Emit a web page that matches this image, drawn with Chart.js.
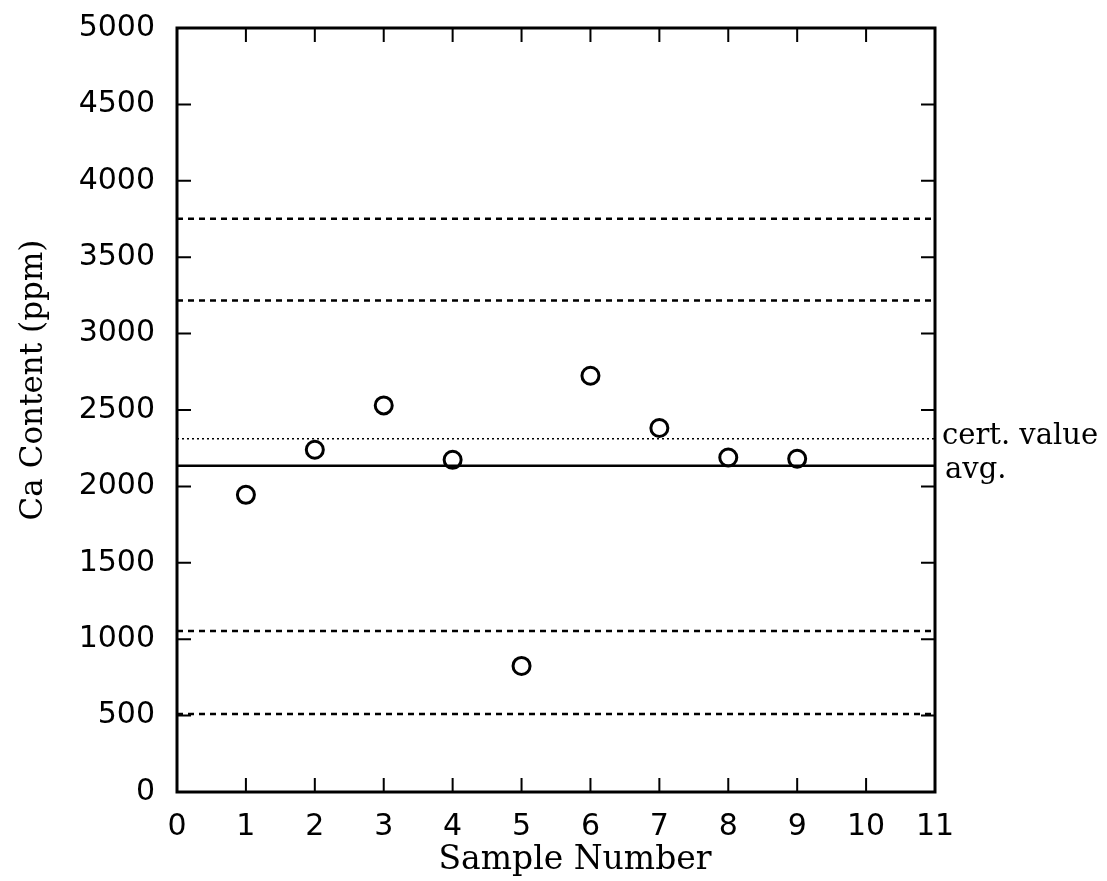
<!DOCTYPE html>
<html>
<head>
<meta charset="utf-8">
<script src="https://cdn.jsdelivr.net/npm/chart.js@4"></script>
<style>
    html, body { margin: 0; padding: 0; background: #ffffff; }
    #wrap { width: 1107px; height: 881px; }
</style>
</head>
<body>
<div id="wrap"><canvas id="myChart" width="1107" height="881"></canvas></div>
<script>
// sample results
const sampleNumbers = [1, 2, 3, 4, 5, 6, 7, 8, 9];
const caContent = [1945, 2240, 2530, 2174, 825, 2724, 2382, 2189, 2181];

// reference lines
const certValue = 2312;
const average = 2135;
const dashedLimits = [3752, 3217, 1054, 511];
const lineLabels = ['cert. value', 'avg.'];

const xTicks = [0, 1, 2, 3, 4, 5, 6, 7, 8, 9, 10, 11];
const yTicks = [0, 500, 1000, 1500, 2000, 2500, 3000, 3500, 4000, 4500, 5000];
const xTitle = 'Sample Number';
const yTitle = 'Ca Content (ppm)';

const tickFont = "'DejaVu Sans', sans-serif";
const serifFont = "'DejaVu Serif', serif";

function hLine(v, dash, width) {
    return {
        type: 'line',
        data: [{x: xTicks[0], y: v}, {x: xTicks[xTicks.length - 1], y: v}],
        borderColor: '#000',
        borderWidth: width,
        borderDash: dash,
        pointRadius: 0,
        fill: false
    };
}

// frame + inward ticks on all four sides, axis titles, labels right of the plot
const framePlugin = {
    id: 'frame',
    afterDraw(chart) {
        const ctx = chart.ctx;
        const a = chart.chartArea;
        const xs = chart.scales.x;
        const ys = chart.scales.y;
        ctx.save();
        ctx.strokeStyle = '#000';
        ctx.lineWidth = 2;
        const tl = 14;
        xTicks.slice(1, -1).forEach(t => {
            const px = xs.getPixelForValue(t);
            ctx.beginPath();
            ctx.moveTo(px, a.bottom); ctx.lineTo(px, a.bottom - tl);
            ctx.moveTo(px, a.top); ctx.lineTo(px, a.top + tl);
            ctx.stroke();
        });
        yTicks.slice(1, -1).forEach(t => {
            const py = ys.getPixelForValue(t);
            ctx.beginPath();
            ctx.moveTo(a.left, py); ctx.lineTo(a.left + tl, py);
            ctx.moveTo(a.right, py); ctx.lineTo(a.right - tl, py);
            ctx.stroke();
        });
        ctx.lineWidth = 3;
        ctx.strokeRect(a.left, a.top, a.right - a.left, a.bottom - a.top);

        ctx.fillStyle = '#000';
        ctx.textBaseline = 'middle';
        ctx.textAlign = 'left';
        ctx.font = "29px " + serifFont;
        ctx.fillText(lineLabels[0], a.right + 7, ys.getPixelForValue(certValue) - 2);
        ctx.fillText(lineLabels[1], a.right + 10, ys.getPixelForValue(average) + 5);

        ctx.textAlign = 'center';
        ctx.font = "33px " + serifFont;
        ctx.fillText(xTitle, 575, 860);

        ctx.font = "31px " + serifFont;
        ctx.translate(34, 380);
        ctx.rotate(-Math.PI / 2);
        ctx.fillText(yTitle, 0, 0);
        ctx.restore();
    }
};

const ctx = document.getElementById('myChart');
const myChart = new Chart(ctx, {
    type: 'scatter',
    data: {
        datasets: [
            {
                data: sampleNumbers.map((s, i) => ({x: s, y: caContent[i]})),
                pointStyle: 'circle',
                pointRadius: 8.5,
                borderColor: '#000',
                borderWidth: 3,
                backgroundColor: 'rgba(0,0,0,0)'
            },
            hLine(certValue, [2, 3], 1.5),
            hLine(average, [], 2.5),
            ...dashedLimits.map(v => hLine(v, [6, 5], 2.5))
        ]
    },
    options: {
        responsive: false,
        animation: false,
        layout: {
            padding: {top: 28, right: 172, bottom: 0, left: 0}
        },
        plugins: {
            legend: {display: false},
            tooltip: {enabled: false}
        },
        scales: {
            x: {
                type: 'linear',
                min: 0,
                max: 11,
                afterBuildTicks: s => { s.ticks = xTicks.map(v => ({value: v})); },
                afterFit: s => { s.height = 89; s.paddingLeft = 0; s.paddingRight = 0; },
                grid: {display: false, drawTicks: false},
                border: {display: false},
                ticks: {
                    color: '#000',
                    padding: 17,
                    font: {family: tickFont, size: 30}
                }
            },
            y: {
                min: 0,
                max: 5000,
                afterBuildTicks: s => { s.ticks = yTicks.map(v => ({value: v})); },
                afterFit: s => { s.width = 177; s.paddingTop = 0; s.paddingBottom = 0; },
                grid: {display: false, drawTicks: false},
                border: {display: false},
                ticks: {
                    color: '#000',
                    padding: 22,
                    font: {family: tickFont, size: 30},
                    callback: v => String(v)
                }
            }
        }
    },
    plugins: [framePlugin]
});
</script>
</body>
</html>
